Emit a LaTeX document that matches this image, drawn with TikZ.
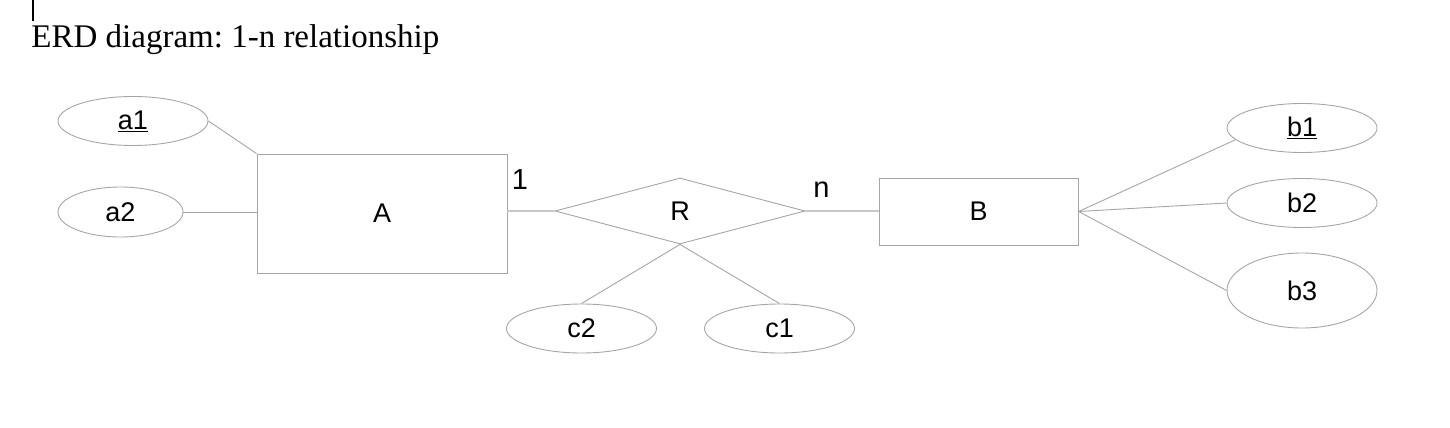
\documentclass[tikz,border=0pt]{standalone}
\usepackage{fontspec}
\setmainfont{Liberation Serif}
\newfontfamily\erdfont{Liberation Sans}
\usetikzlibrary{shapes.geometric}
\definecolor{erdgray}{RGB}{165,165,165}
\definecolor{erdlight}{RGB}{200,200,200}
\frenchspacing

\begin{document}
\begin{tikzpicture}
  [x=1pt,y=-1pt,line width=.9pt,
   every node/.style={font=\erdfont\fontsize{27}{30}\selectfont,inner sep=0pt},
   entity/.style={draw=erdgray,rectangle},
   attr/.style={draw=erdgray,ellipse,minimum width=150,minimum height=49},
   rel/.style={draw=erdgray,diamond,minimum width=250,minimum height=66},
   card/.style={font=\erdfont\fontsize{29}{32}\selectfont}]
  \useasboundingbox (0,0) rectangle (1450,428);
  \draw[black,line width=1.3pt] (33,0) -- (33,21);
  \node[anchor=base west,font=\rmfamily\fontsize{33}{38}\selectfont] (title) at (31,47.3) {ERD diagram: 1-n relationship};

  \node[entity,minimum width=250,minimum height=119] (A) at (382,213.5) {A};
  \node[rel] (R) at (680,211) {R};
  \node[entity,minimum width=199,minimum height=67] (B) at (978.7,211.5) {B};
  \node[attr] (a1) at (133,121) {\underline{a1}};
  \node[attr,minimum width=125,minimum height=50] (a2) at (120.5,212) {a2};
  \node[attr] (b1) at (1302,128) {\underline{b1}};
  \node[attr] (b2) at (1302,203) {b2};
  \node[attr,minimum height=75] (b3) at (1302,290.5) {b3};
  \node[attr] (c2) at (581.5,328.5) {c2};
  \node[attr] (c1) at (779.5,328.5) {c1};
  \node[card] (one) at (520,180) {1};
  \node[card] (many) at (821.5,189.5) {n};

  \draw[erdgray] (a1.east) -- (A.north west);
  \draw[erdgray] (a2.east) -- (a2.east -| A.west);
  \draw[erdlight,line width=1.5pt] (R.west -| A.east) -- (R.west);
  \draw[erdlight,line width=1.5pt] (R.east) -- (R.east -| B.west);
  \draw[erdgray] (B.east) -- (b1.190);
  \draw[erdgray] (B.east) -- (b2.west);
  \draw[erdgray] (B.east) -- (b3.west);
  \draw[erdgray] (R.south) -- (c2.north);
  \draw[erdgray] (R.south) -- (c1.north);
\end{tikzpicture}
\end{document}
